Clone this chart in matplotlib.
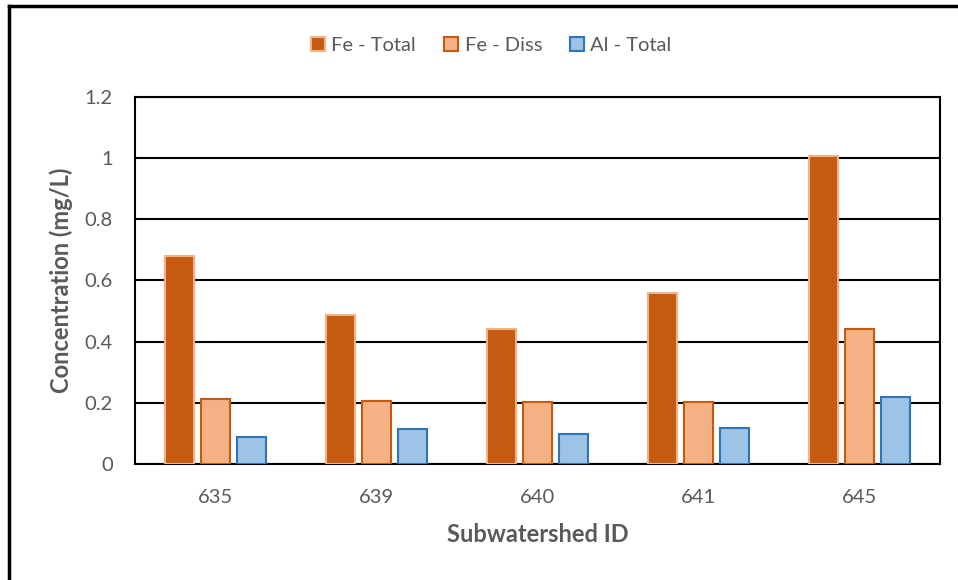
import matplotlib.pyplot as plt
import numpy as np
from matplotlib.lines import Line2D

# Data
subwatersheds = ["635", "639", "640", "641", "645"]
fe_total = [0.68, 0.487, 0.443, 0.56, 1.008]
fe_diss = [0.214, 0.207, 0.204, 0.204, 0.441]
al_total = [0.088, 0.115, 0.098, 0.119, 0.219]

plt.rcParams["font.family"] = ["Lato", "DejaVu Sans"]
grey = "#595959"

fig = plt.figure(figsize=(9.58, 5.80), dpi=100)
ax = fig.add_axes([0.1409, 0.2, 0.8403, 0.6328])

x = np.arange(len(subwatersheds))
w = 0.18
off = 0.222

ax.bar(x - off, fe_total, w, color="#C55A11", edgecolor="#F4B183", linewidth=1.5,
       label="Fe - Total", zorder=3)
ax.bar(x, fe_diss, w, color="#F4B183", edgecolor="#C55A11", linewidth=1.5,
       label="Fe - Diss", zorder=3)
ax.bar(x + off, al_total, w, color="#9DC3E6", edgecolor="#2E75B6", linewidth=1.5,
       label="Al - Total", zorder=3)

ax.set_xlim(-0.5, len(subwatersheds) - 0.5)
ax.set_ylim(0, 1.2)
ax.set_yticks([0, 0.2, 0.4, 0.6, 0.8, 1.0, 1.2])
ax.set_yticklabels(["0", "0.2", "0.4", "0.6", "0.8", "1", "1.2"])
ax.set_xticks(x)
ax.set_xticklabels(subwatersheds)
ax.tick_params(axis="both", length=0, labelsize=14.5, colors=grey)
ax.tick_params(axis="y", pad=16)
ax.tick_params(axis="x", pad=18)

ax.grid(axis="y", color="black", linewidth=1.5, zorder=1)
ax.set_axisbelow(True)
for s in ax.spines.values():
    s.set_color("black")
    s.set_linewidth(1.5)

ax.set_ylabel("Concentration (mg/L)", fontsize=17, fontweight="bold", color=grey, labelpad=8)
ax.set_xlabel("Subwatershed ID", fontsize=17, fontweight="bold", color=grey, labelpad=12)

leg = fig.legend(loc="center", bbox_to_anchor=(0.513, 0.922), ncol=3, frameon=False,
                 fontsize=14.5, handlelength=0.7, handleheight=0.7, handletextpad=0.3,
                 columnspacing=1.4)
for t in leg.get_texts():
    t.set_color(grey)

# outer chart border (left and top edges visible)
fig.add_artist(Line2D([0.009, 0.009], [0, 0.989], color="black", linewidth=2.5,
                      transform=fig.transFigure))
fig.add_artist(Line2D([0.009, 1.0], [0.989, 0.989], color="black", linewidth=2.5,
                      transform=fig.transFigure))

fig.savefig("out.png", dpi=100)
